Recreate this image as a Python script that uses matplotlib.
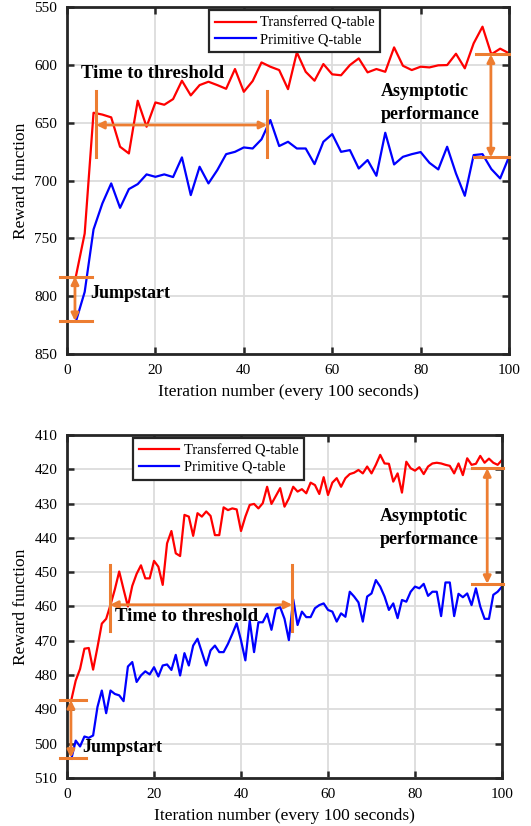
import matplotlib
matplotlib.use("Agg")
import matplotlib.pyplot as plt
import numpy as np

plt.rcParams['font.family'] = ['Liberation Serif', 'DejaVu Serif']
plt.rcParams['mathtext.fontset'] = 'stix'

ORANGE = '#ED7D31'

# ---- run 1: sampled every 2 iterations ----
it_a = np.arange(2, 101, 2)
transferred_a = [783, 745.8, 641.4, 643, 645.4, 670.8, 676.6, 631, 653.5, 632.5,
                 634.5, 629.6, 613.7, 626.4, 617.5, 614.6, 617.5, 620.7, 603.6, 623.3,
                 614, 597.9, 601.6, 604.5, 621, 589.2, 606, 613.7, 599.3, 608.2,
                 609, 600.2, 594.4, 606.5, 603.6, 606, 584.9, 600.8, 604.5, 601.6,
                 602.2, 600.4, 600.2, 590.4, 603, 581.4, 567, 590.9, 586, 590]
primitive_a = [822, 796.3, 742.3, 719.8, 702.5, 723.6, 707.4, 703.1, 694.7, 696.8,
               694.7, 697, 680, 712.6, 688.1, 702.5, 691, 677.2, 675.2, 671.4,
               672.3, 664.4, 647.7, 670.2, 666.5, 672.3, 672.3, 685.8, 666.5, 659.9,
               675.2, 673.7, 689.6, 682.3, 695.9, 658.7, 686.1, 679.5, 677.2, 675.4,
               684.7, 690.4, 670.8, 693.9, 713.2, 678, 677.2, 690.1, 698.2, 679.5]

# ---- run 2: every iteration ----
it_b = np.arange(1, 101)
transferred_b = [487.2, 481.6, 478.2, 472.3, 472.1, 478.4, 471.9, 465, 463.6, 459.5,
                 455, 449.8, 455, 460, 454, 450.5, 448, 451.8, 451.8, 446.7,
                 448.4, 453.7, 441.6, 438, 444.5, 445.3, 433.3, 433.8, 439.4, 432.8,
                 433.8, 432.3, 433.6, 439.2, 439.2, 431.1, 431.9, 431.4, 431.7, 438,
                 433.8, 430.4, 430.1, 431.4, 429.9, 425.1, 430.1, 427.8, 425.5, 430.9,
                 428.5, 425.1, 426.5, 425.8, 427, 423.9, 424.6, 427.2, 422.3, 427.5,
                 423.9, 422.6, 425.1, 422.6, 421.4, 421, 420.2, 421.2, 419.2, 421.2,
                 418.7, 415.8, 418.3, 418.4, 423.6, 421.2, 426.8, 417.8, 419.7, 420.4,
                 419.4, 421.4, 419.2, 418.3, 418.1, 418.3, 418.7, 419, 421.2, 418.3,
                 421.7, 416.8, 418.7, 418.4, 416.1, 418.1, 416.9, 418.1, 418.7, 417.3]
primitive_b = [504.4, 499.1, 500.8, 497.9, 498.3, 497.6, 489.3, 484.5, 491.1, 484.5,
               485.5, 485.9, 487.6, 477.5, 476.2, 482, 480.1, 478.9, 479.8, 477.7,
               480.4, 477.2, 476.9, 478.5, 474.1, 480.1, 473.6, 477.2, 471.4, 469.4,
               473.3, 477.2, 472.8, 471.4, 473.3, 473.3, 470.9, 468, 464.9, 469.9,
               475.7, 464.1, 473.3, 464.6, 464.6, 462.1, 466.8, 460.7, 460.2, 463.6,
               469.8, 457.9, 465.4, 461.5, 463.1, 463.1, 460.5, 459.6, 459.1, 461,
               461.5, 464.4, 462, 463, 455.7, 457.1, 458.8, 464.4, 457.1, 456.2,
               452.3, 454.2, 457.1, 461, 459.1, 463.4, 458.1, 458.6, 455.7, 454.2,
               454.7, 453.4, 456.9, 455.7, 455.7, 462.8, 453, 453, 462.8, 456.3,
               457.3, 456.2, 459.6, 454.7, 460, 463.6, 463.6, 456.6, 455.7, 454.2]

labels = ['Transferred Q-table', 'Primitive Q-table']


def darrow(ax, p0, p1):
    ax.annotate('', xy=p1, xytext=p0,
                arrowprops=dict(arrowstyle='<|-|>', color=ORANGE, lw=2,
                                mutation_scale=11, shrinkA=0, shrinkB=0),
                annotation_clip=False)


def bar(ax, xs, ys):
    ax.plot(xs, ys, color=ORANGE, lw=2.2, clip_on=False, zorder=5)


def style(ax, ylim, yticks):
    ax.set_xlim(0, 100)
    ax.set_ylim(*ylim)
    ax.set_yticks(yticks)
    ax.set_xticks(range(0, 101, 20))
    ax.grid(True, color='#dcdcdc', lw=1.3)
    ax.set_axisbelow(True)
    for s in ax.spines.values():
        s.set_linewidth(2)
        s.set_color('#262626')
    ax.tick_params(direction='in', top=True, right=True, length=5, width=1.8,
                   labelsize=11, color='#262626', pad=7)
    ax.set_xlabel('Iteration number (every 100 seconds)', fontsize=12.5, labelpad=5)
    ax.set_ylabel('Reward function', fontsize=12.5, labelpad=4)


def legend(ax, x0):
    leg = ax.legend(loc='upper left', bbox_to_anchor=(x0, 0.99), borderaxespad=0,
                    fontsize=10.5, handlelength=2.8, fancybox=False,
                    edgecolor='#262626', framealpha=1, borderpad=0.4,
                    labelspacing=0.22, handletextpad=0.3)
    leg.get_frame().set_linewidth(1.6)


bold = dict(fontsize=13, fontweight='bold', va='center')

fig = plt.figure(figsize=(5.31, 8.26), dpi=100)
ax1 = fig.add_axes([0.1262, 0.5714, 0.8324, 0.4201])
ax2 = fig.add_axes([0.1262, 0.0581, 0.8192, 0.4153])

# top panel
ax1.plot(it_a, transferred_a, color='#FF0000', lw=1.6, label=labels[0])
ax1.plot(it_a, primitive_a, color='#0000FF', lw=1.6, label=labels[1])
style(ax1, (850, 550), range(550, 851, 50))

bar(ax1, [-1.6, 5.6], [783, 783])
bar(ax1, [-1.6, 5.6], [821.5, 821.5])
darrow(ax1, (1.8, 783), (1.8, 821.5))
ax1.text(5.3, 798, 'Jumpstart', **bold)

bar(ax1, [6.6, 6.6], [623, 679.5])
bar(ax1, [45.3, 45.3], [623, 679.5])
darrow(ax1, (6.6, 652), (45.3, 652))
ax1.text(3.2, 607.5, 'Time to threshold', fontsize=13.6, fontweight='bold', va='center')

bar(ax1, [92.5, 100], [591, 591])
bar(ax1, [92.1, 100], [680, 680])
darrow(ax1, (95.9, 591), (95.9, 680))
ax1.text(71, 633, 'Asymptotic\nperformance', ha='left', linespacing=1.4, **bold)

legend(ax1, 0.321)

# bottom panel
ax2.plot(it_b, transferred_b, color='#FF0000', lw=1.6, label=labels[0])
ax2.plot(it_b, primitive_b, color='#0000FF', lw=1.6, label=labels[1])
style(ax2, (510, 410), range(410, 511, 10))

bar(ax2, [-1.6, 4.4], [487.3, 487.3])
bar(ax2, [-1.6, 4.4], [504.1, 504.1])
darrow(ax2, (0.9, 487.3), (0.9, 504.1))
ax2.text(3.6, 501, 'Jumpstart', **bold)

bar(ax2, [9.9, 9.9], [448, 467])
bar(ax2, [51.8, 51.8], [448, 467])
darrow(ax2, (9.9, 459.5), (51.8, 459.5))
ax2.text(11, 463, 'Time to threshold', fontsize=13.6, fontweight='bold', va='center')

bar(ax2, [93, 100.3], [419.7, 419.7])
bar(ax2, [93, 100.3], [453.4, 453.4])
darrow(ax2, (96.6, 419.7), (96.6, 453.4))
ax2.text(72, 437.1, 'Asymptotic\nperformance', ha='left', linespacing=1.4, **bold)

legend(ax2, 0.151)

fig.savefig('out.png', dpi=100)
